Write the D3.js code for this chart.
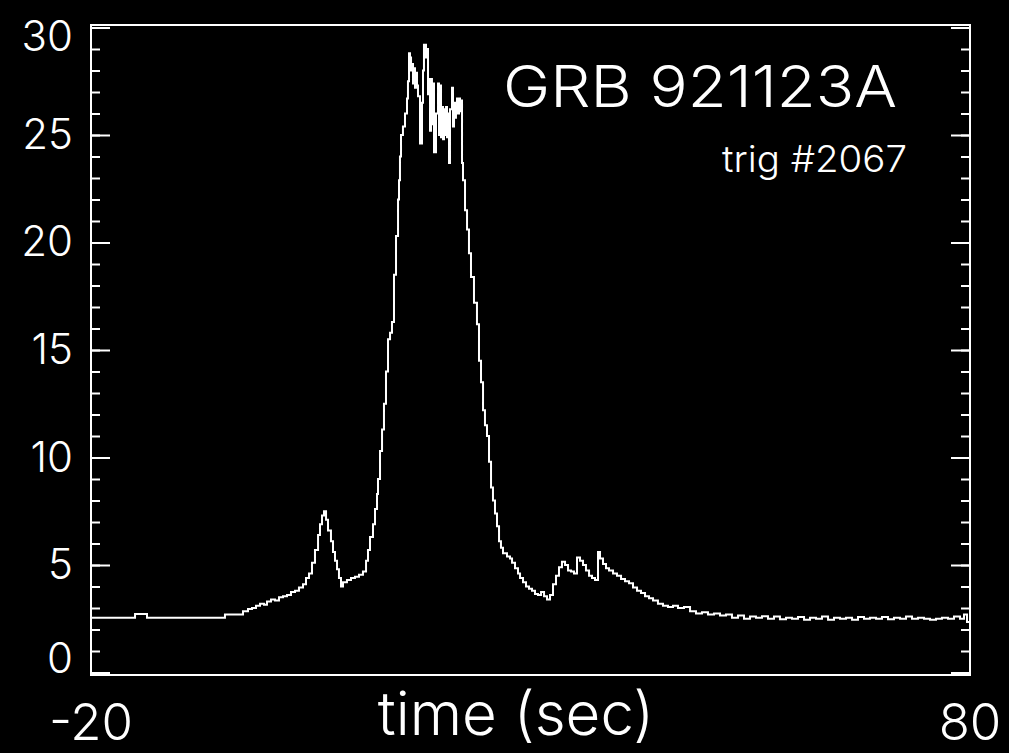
<!DOCTYPE html>
<html>
<head>
<meta charset="utf-8">
<script src="https://cdn.jsdelivr.net/npm/d3@7/dist/d3.min.js"></script>
<style>
  html, body { margin: 0; padding: 0; background: #000; }
  svg { display: block; }
  text { fill: #fff; font-family: "Inter", "Liberation Sans", sans-serif; font-weight: 300; }
</style>
</head>
<body>
<svg id="chart" width="1009" height="753"></svg>
<script>
// BATSE light curve of GRB 921123A (trigger #2067): count rate vs time since trigger.
// Bin start times (s) and rates; the line is drawn as a step histogram.
const times = [
  -20.00, -14.99, -13.63, -4.76, -2.71, -2.14, -1.68, -1.23, -0.77, -0.32,
  0.02, 0.48, 0.93, 1.39, 1.84, 2.30, 2.75, 3.21, 3.66, 4.12,
  4.46, 4.80, 5.14, 5.48, 5.83, 6.05, 6.28, 6.51, 6.74, 6.96,
  7.30, 7.53, 7.76, 7.99, 8.21, 8.44, 8.67, 9.12, 9.58, 10.03,
  10.49, 10.94, 11.29, 11.51, 11.74, 12.08, 12.31, 12.54, 12.65, 12.88,
  13.11, 13.33, 13.56, 13.79, 14.02, 14.24, 14.47, 14.70,
  14.93, 15.04, 15.15, 15.27, 15.49, 15.72, 15.95, 16.06, 16.18, 16.29,
  16.41, 16.52, 16.63, 16.75, 16.86, 16.97, 17.09, 17.20, 17.43, 17.66,
  17.77, 17.88, 18.11, 18.23, 18.34, 18.45, 18.57, 18.68, 18.79, 18.91,
  19.02, 19.25, 19.48, 19.59, 19.70, 19.82, 19.93, 20.05, 20.16, 20.27,
  20.39, 20.50, 20.61, 20.73, 20.84, 21.07, 21.18, 21.30, 21.41, 21.52,
  21.64, 21.75, 21.87, 21.98, 22.09, 22.21, 22.32,
  22.55, 22.78, 23.00, 23.23, 23.57, 23.91, 24.14, 24.37, 24.60,
  24.82, 25.05, 25.28, 25.51, 25.73, 25.96, 26.19, 26.42, 26.64, 26.87,
  27.33, 27.67, 27.90, 28.24, 28.58, 28.81, 29.15, 29.49, 29.83, 30.17,
  30.51, 30.85, 31.20, 31.54, 31.88, 32.22, 32.56, 32.90, 33.24, 33.58,
  33.93, 34.27, 34.61, 34.95, 35.29, 35.63, 35.97, 36.31, 36.66, 37.00,
  37.34, 37.68, 37.91, 38.25, 38.59, 38.93, 39.39, 39.84, 40.30, 40.75,
  41.21, 41.66, 42.12, 42.57, 43.03, 43.48, 43.94, 44.50, 45.07, 45.64,
  46.21, 46.78, 47.46, 48.15, 48.83, 49.51, 50.19, 50.88, 51.56, 52.24,
  52.92, 53.61, 54.29, 54.97, 55.65, 56.34, 57.02, 57.70, 58.38, 59.07,
  59.75, 60.43, 61.12, 61.80, 62.48, 63.16, 63.85, 64.53, 65.21, 65.89,
  66.58, 67.26, 67.94, 68.62, 69.31, 69.99, 70.67, 71.35, 72.04, 72.72,
  73.40, 74.08, 74.77, 75.45, 76.13, 76.81, 77.50, 78.18, 78.86, 79.32,
  79.66
];
const rates = [
  2.55, 2.72, 2.55, 2.70, 2.85, 2.95, 3.00, 3.10, 3.20, 3.15,
  3.30, 3.40, 3.35, 3.50, 3.55, 3.60, 3.75, 3.80, 3.95, 4.10,
  4.40, 4.60, 5.10, 5.70, 6.40, 6.90, 7.30, 7.50, 7.10, 6.60,
  6.10, 5.60, 5.20, 4.80, 4.40, 4.00, 4.20, 4.30, 4.40, 4.45,
  4.55, 4.70, 5.20, 5.70, 6.30, 6.90, 7.60, 8.30, 9.00, 10.30,
  11.30, 12.50, 14.00, 15.50, 15.80, 16.30, 18.50, 20.30,
  22.0, 22.9, 24.0, 25.0, 25.4, 26.0, 26.7, 27.5, 28.8, 28.6,
  28.0, 28.3, 27.4, 28.1, 27.2, 27.9, 27.3, 26.8, 24.6, 26.5,
  28.0, 29.2, 28.6, 29.0, 26.9, 27.6, 25.2, 27.6, 25.5, 27.4,
  24.2, 26.0, 27.4, 25.0, 27.3, 24.9, 26.3, 24.8, 26.2, 25.0,
  26.3, 24.9, 26.0, 23.7, 26.2, 27.2, 25.4, 26.5, 25.8, 26.3,
  26.7, 26.0, 26.7, 26.1, 26.6, 23.7, 22.9,
  21.50, 20.60, 19.50, 18.40, 17.20, 16.20, 14.50, 13.50, 12.20,
  11.50, 11.00, 9.80, 8.60, 8.00, 7.40, 6.80, 6.10, 5.80, 5.55,
  5.40, 5.30, 5.10, 4.85, 4.60, 4.40, 4.20, 4.00, 3.90, 3.80,
  3.65, 3.60, 3.75, 3.55, 3.40, 3.60, 4.10, 4.50, 4.90, 5.15,
  5.00, 4.75, 4.70, 4.60, 5.35, 5.20, 5.00, 4.75, 4.50, 4.40,
  4.30, 5.60, 5.30, 5.05, 4.85, 4.75, 4.60, 4.50, 4.35, 4.25,
  4.15, 3.95, 3.80, 3.70, 3.55, 3.45, 3.35, 3.20, 3.10, 3.05,
  3.10, 3.00, 3.05, 2.85, 2.75, 2.80, 2.70, 2.75, 2.65, 2.70,
  2.55, 2.65, 2.50, 2.60, 2.55, 2.62, 2.50, 2.60, 2.48, 2.55,
  2.50, 2.58, 2.45, 2.55, 2.50, 2.60, 2.45, 2.55, 2.50, 2.55,
  2.45, 2.58, 2.50, 2.55, 2.50, 2.58, 2.48, 2.55, 2.50, 2.60,
  2.50, 2.55, 2.50, 2.45, 2.50, 2.55, 2.50, 2.60, 2.50, 2.70,
  2.35
];

const xDomain = [-20, 80];
const yDomain = [-0.116, 30.116];
const yMajorTicks = [0, 5, 10, 15, 20, 25, 30];
const yMinorTicks = d3.range(0, 31, 1);
const xTickLabels = [-20, 80];
const title = "GRB 921123A";
const subtitle = "trig #2067";
const xTitle = "time (sec)";

const frame = { left: 91, right: 970, top: 25, bottom: 675 };

const svg = d3.select("#chart");
svg.append("rect").attr("width", 1009).attr("height", 753).attr("fill", "#000");

const x = d3.scaleLinear().domain(xDomain).range([frame.left, frame.right]);
const y = d3.scaleLinear().domain(yDomain).range([frame.bottom, frame.top]);

// Plot box
svg.append("rect")
  .attr("x", frame.left).attr("y", frame.top)
  .attr("width", frame.right - frame.left).attr("height", frame.bottom - frame.top)
  .attr("fill", "none").attr("stroke", "#fff").attr("stroke-width", 2);

// Inward-pointing ticks on both vertical sides
function tickAxis(axisFn, values, size, xPos) {
  const g = svg.append("g")
    .attr("transform", `translate(${xPos},0)`)
    .call(axisFn(y).tickValues(values).tickSize(size).tickFormat(""));
  g.select(".domain").remove();
  g.selectAll("line").attr("stroke", "#fff").attr("stroke-width", 2);
}
tickAxis(d3.axisRight, yMinorTicks, 9, frame.left);
tickAxis(d3.axisRight, yMajorTicks, 19, frame.left);
tickAxis(d3.axisLeft, yMinorTicks, 9, frame.right);
tickAxis(d3.axisLeft, yMajorTicks, 19, frame.right);

// Y tick labels; the end labels sit slightly inside the box
svg.append("g").selectAll("text")
  .data(yMajorTicks)
  .join("text")
  .attr("x", 73)
  .attr("y", d => y(d) + (d === 30 ? 24 : d === 0 ? 0 : 14))
  .attr("text-anchor", "end")
  .attr("font-size", 42)
  .text(d => d);

// X end labels
svg.append("g").selectAll("text")
  .data(xTickLabels)
  .join("text")
  .attr("x", d => x(d))
  .attr("y", 740)
  .attr("text-anchor", "middle")
  .attr("font-size", 51)
  .text(d => d);

svg.append("text")
  .attr("x", 516).attr("y", 735)
  .attr("text-anchor", "middle")
  .attr("font-size", 60)
  .text(xTitle);

svg.append("text")
  .attr("x", 503).attr("y", 107)
  .attr("font-size", 58)
  .attr("textLength", 394).attr("lengthAdjust", "spacingAndGlyphs")
  .text(title);

svg.append("text")
  .attr("x", 722).attr("y", 172)
  .attr("font-size", 37)
  .attr("textLength", 185).attr("lengthAdjust", "spacingAndGlyphs")
  .text(subtitle);

// Light curve
const pts = times.map((t, i) => [t, rates[i]]);
pts.push([xDomain[1], rates[rates.length - 1]]);
const line = d3.line().x(d => x(d[0])).y(d => y(d[1])).curve(d3.curveStepAfter);
svg.append("path")
  .datum(pts)
  .attr("d", line)
  .attr("fill", "none")
  .attr("stroke", "#fff")
  .attr("stroke-width", 2);
</script>
</body>
</html>
